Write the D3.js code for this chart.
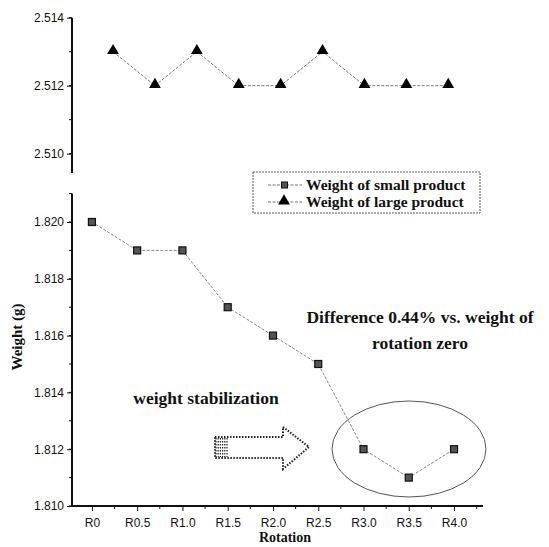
<!DOCTYPE html>
<html>
<head>
<meta charset="utf-8">
<script src="https://cdn.jsdelivr.net/npm/d3@7"></script>
<style>
  body { margin: 0; background: #fff; }
  svg text { fill: #111; }
</style>
</head>
<body>
<div id="chart"></div>
<script>
// data
var rotations = ["R0", "R0.5", "R1.0", "R1.5", "R2.0", "R2.5", "R3.0", "R3.5", "R4.0"];
var smallWeight = [1.820, 1.819, 1.819, 1.817, 1.816, 1.815, 1.812, 1.811, 1.812];
var largeWeight = [2.513, 2.512, 2.513, 2.512, 2.512, 2.513, 2.512, 2.512, 2.512];
var topTicks = [2.510, 2.512, 2.514];
var bottomTicks = [1.810, 1.812, 1.814, 1.816, 1.818, 1.820];
var seriesNames = ["Weight of small product", "Weight of large product"];

var svg = d3.select('#chart').append('svg')
  .attr('width', 549)
  .attr('height', 547);

var axisX = 72, axisRight = 483;

// bottom panel scales
var x = d3.scaleLinear().domain([-0.44, 8.64]).range([axisX, axisRight]);
var yBot = d3.scaleLinear().domain([1.810, 1.821]).range([506, 193.6]);
// top panel (pasted broken part, slightly shifted x)
var xTop = d3.scaleLinear().domain([-0.98, 8.83]).range([axisX, axisRight]);
var yTop = d3.scaleLinear().domain([2.50943, 2.514]).range([173, 17.7]);

var tickFont = "'Liberation Sans', Arial, sans-serif";
var serif = "'Liberation Serif', 'Times New Roman', serif";

// ---- y axes
function drawYAxis(scale, ticks, minorStep) {
  var g = svg.append('g').attr('transform', 'translate(' + axisX + ',0)');
  var ax = d3.axisLeft(scale).tickValues(ticks).tickSize(5).tickFormat(d3.format('.3f'));
  g.call(ax);
  var d = scale.domain();
  var minors = d3.range(Math.ceil(d[0] / minorStep - 1e-6), Math.floor(d[1] / minorStep + 1e-6) + 1)
    .map(function (k) { return k * minorStep; });
  g.selectAll('line.minor').data(minors).enter().append('line')
    .attr('class', 'minor')
    .attr('x1', 0).attr('x2', -3)
    .attr('y1', function (v) { return scale(v); })
    .attr('y2', function (v) { return scale(v); })
    .attr('stroke', '#111');
  g.select('.domain').attr('stroke', '#111').attr('stroke-width', 2)
    .attr('d', 'M0,' + scale.range()[0] + 'V' + scale.range()[1]);
  g.selectAll('.tick line').attr('stroke', '#111');
  g.selectAll('.tick text').attr('font-family', tickFont).attr('font-size', 12).attr('fill', '#111');
  return g;
}
drawYAxis(yTop, topTicks, 0.001);
drawYAxis(yBot, bottomTicks, 0.001);

// ---- x axis
var gx = svg.append('g').attr('transform', 'translate(0,506)');
gx.call(d3.axisBottom(x).tickValues(d3.range(rotations.length)).tickSize(5)
  .tickFormat(function (i) { return rotations[i]; }));
gx.select('.domain').attr('stroke', '#111').attr('stroke-width', 2)
  .attr('d', 'M' + axisX + ',0H' + axisRight);
gx.selectAll('.tick line').attr('stroke', '#111');
gx.selectAll('.tick text').attr('font-family', tickFont).attr('font-size', 12).attr('dy', '1.05em');
gx.selectAll('line.minor').data(d3.range(rotations.length).map(function (i) { return i + 0.5; }))
  .enter().append('line').attr('class', 'minor')
  .attr('x1', function (v) { return x(v); }).attr('x2', function (v) { return x(v); })
  .attr('y1', 0).attr('y2', 3).attr('stroke', '#111');

// axis titles
svg.append('text').attr('x', 285).attr('y', 542)
  .attr('text-anchor', 'middle').attr('font-family', serif)
  .attr('font-weight', 'bold').attr('font-size', 14).text('Rotation');
svg.append('text').attr('transform', 'translate(22,337) rotate(-90)')
  .attr('text-anchor', 'middle').attr('font-family', serif)
  .attr('font-weight', 'bold').attr('font-size', 15).text('Weight (g)');

// ---- series lines
var lineBot = d3.line().x(function (d, i) { return x(i); }).y(function (d) { return yBot(d); });
var lineTop = d3.line().x(function (d, i) { return xTop(i); }).y(function (d) { return yTop(d); });

svg.append('path').datum(smallWeight).attr('d', lineBot)
  .attr('fill', 'none').attr('stroke', '#888').attr('stroke-width', 1).attr('stroke-dasharray', '3,1.5');
svg.append('path').datum(largeWeight).attr('d', lineTop)
  .attr('fill', 'none').attr('stroke', '#777').attr('stroke-width', 1).attr('stroke-dasharray', '3,1.5');

// markers
var tri = d3.symbol().type(d3.symbolTriangle).size(60);
svg.selectAll('path.tri').data(largeWeight).enter().append('path')
  .attr('class', 'tri').attr('d', tri)
  .attr('transform', function (d, i) { return 'translate(' + xTop(i) + ',' + (yTop(d) - 1) + ')'; })
  .attr('fill', '#000');

svg.selectAll('rect.sq').data(smallWeight).enter().append('rect')
  .attr('class', 'sq')
  .attr('x', function (d, i) { return x(i) - 3.5; })
  .attr('y', function (d) { return yBot(d) - 3.5; })
  .attr('width', 7).attr('height', 7)
  .attr('fill', '#555').attr('stroke', '#111').attr('stroke-width', 1.2);

// ---- legend
var lg = svg.append('g').attr('transform', 'translate(253,172)');
lg.append('rect').attr('width', 227).attr('height', 41)
  .attr('fill', '#fff').attr('stroke', '#555').attr('stroke-width', 1).attr('stroke-dasharray', '2,1');
var rows = lg.selectAll('g.row').data(seriesNames).enter().append('g')
  .attr('transform', function (d, i) { return 'translate(0,' + (13 + i * 17) + ')'; });
rows.append('line').attr('x1', 15).attr('x2', 49).attr('y1', 0).attr('y2', 0)
  .attr('stroke', '#777').attr('stroke-dasharray', '3,1.5');
rows.each(function (d, i) {
  var r = d3.select(this);
  if (i === 0) {
    r.append('rect').attr('x', 28.5).attr('y', -3).attr('width', 6).attr('height', 6)
      .attr('fill', '#555').attr('stroke', '#111');
  } else {
    r.append('path').attr('d', tri).attr('transform', 'translate(31,-1)').attr('fill', '#000');
  }
});
rows.append('text').attr('x', 53).attr('y', 5)
  .attr('font-family', serif).attr('font-weight', 'bold').attr('font-size', 15.5)
  .text(function (d) { return d; });

// ---- annotations
var note = svg.append('text').attr('text-anchor', 'middle')
  .attr('font-family', serif).attr('font-weight', 'bold').attr('font-size', 17.5);
note.append('tspan').attr('x', 420).attr('y', 323).text('Difference 0.44% vs. weight of');
note.append('tspan').attr('x', 420).attr('y', 349).text('rotation zero');

svg.append('text').attr('x', 206).attr('y', 404).attr('text-anchor', 'middle')
  .attr('font-family', serif).attr('font-weight', 'bold').attr('font-size', 17.5)
  .text('weight stabilization');

// dotted arrow
svg.append('path')
  .attr('d', 'M215,437 L283,437 L283,427 L309,447 L283,469 L283,458 L215,458 Z')
  .attr('fill', 'none').attr('stroke', '#222').attr('stroke-width', 2).attr('stroke-dasharray', '1.5,1.5');
svg.selectAll('line.hatch').data(d3.range(6)).enter().append('line')
  .attr('class', 'hatch')
  .attr('x1', function (d) { return 216 + d * 2.2; }).attr('x2', function (d) { return 216 + d * 2.2; })
  .attr('y1', 438).attr('y2', 457)
  .attr('stroke', '#222').attr('stroke-width', 1.2).attr('stroke-dasharray', '1.5,1.5');

// ellipse around last points
svg.append('ellipse').attr('cx', 409).attr('cy', 449).attr('rx', 77).attr('ry', 48)
  .attr('fill', 'none').attr('stroke', '#555').attr('stroke-width', 1);
</script>
</body>
</html>
